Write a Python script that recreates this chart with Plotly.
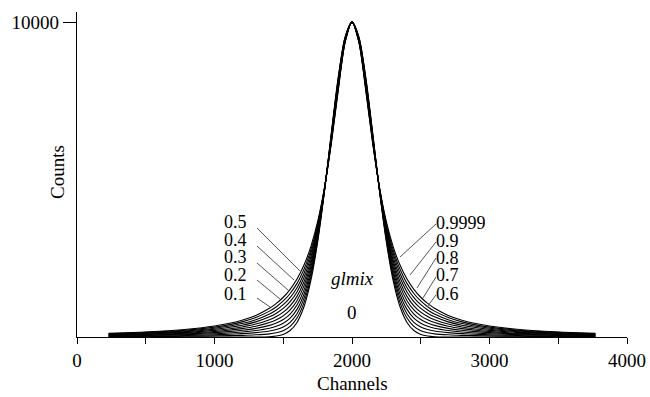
import plotly.graph_objects as go

# ---------------- data (read / estimated from the picture) ----------------
CENTER = 2000
# distance from the peak centre (channels); the profiles are symmetric
OFFSETS = [0, 50, 100, 150, 200, 250, 300, 350, 400, 450, 500, 550, 600,
           700, 800, 900, 1000, 1200, 1400, 1600, 1770]

GLMIX = ["0", "0.1", "0.2", "0.3", "0.4", "0.5", "0.6", "0.7", "0.8", "0.9", "0.9999"]

COUNTS_0 = [10000, 9531, 8253, 6492, 4639, 3012, 1776, 952, 463, 205, 82, 30, 10, 1, 0, 0, 0, 0, 0, 0, 0]
COUNTS_01 = [10000, 9513, 8211, 6459, 4650, 3077, 1885, 1084, 601, 336, 200, 134, 100, 70, 53, 43, 35, 25, 18, 14, 11]
COUNTS_02 = [10000, 9495, 8169, 6426, 4660, 3142, 1993, 1217, 739, 467, 318, 237, 190, 138, 107, 85, 70, 49, 36, 28, 23]
COUNTS_03 = [10000, 9477, 8126, 6392, 4671, 3207, 2102, 1349, 876, 597, 436, 341, 280, 207, 160, 128, 104, 74, 54, 42, 34]
COUNTS_04 = [10000, 9459, 8084, 6359, 4681, 3272, 2211, 1482, 1014, 728, 554, 444, 370, 275, 214, 171, 139, 98, 72, 56, 46]
COUNTS_05 = [10000, 9442, 8042, 6326, 4692, 3337, 2320, 1614, 1152, 859, 672, 548, 461, 344, 267, 214, 174, 123, 91, 70, 57]
COUNTS_06 = [10000, 9424, 8000, 6293, 4702, 3401, 2428, 1746, 1290, 990, 790, 652, 551, 412, 320, 256, 209, 147, 109, 83, 68]
COUNTS_07 = [10000, 9406, 7958, 6260, 4713, 3466, 2537, 1879, 1428, 1121, 908, 755, 641, 481, 374, 299, 244, 172, 127, 97, 80]
COUNTS_08 = [10000, 9388, 7915, 6226, 4723, 3531, 2646, 2011, 1565, 1251, 1026, 859, 731, 549, 427, 342, 278, 196, 145, 111, 91]
COUNTS_09 = [10000, 9370, 7873, 6193, 4734, 3596, 2754, 2144, 1703, 1382, 1144, 962, 821, 618, 481, 384, 313, 221, 163, 125, 103]
COUNTS_09999 = [10000, 9352, 7831, 6160, 4744, 3661, 2863, 2276, 1841, 1513, 1262, 1066, 911, 686, 534, 427, 348, 245, 181, 139, 114]

SERIES = [COUNTS_0, COUNTS_01, COUNTS_02, COUNTS_03, COUNTS_04, COUNTS_05,
          COUNTS_06, COUNTS_07, COUNTS_08, COUNTS_09, COUNTS_09999]

X_TICKS = [0, 500, 1000, 1500, 2000, 2500, 3000, 3500, 4000]
X_TICKTEXT = ["0", "", "1000", "", "2000", "", "3000", "", "4000"]
Y_TICKS = [10000]
Y_TICKTEXT = ["10000"]

LEFT_LABELS = ["0.5", "0.4", "0.3", "0.2", "0.1"]
RIGHT_LABELS = ["0.9999", "0.9", "0.8", "0.7", "0.6"]

# ---------------- layout geometry ----------------
W, H = 650, 397
ML, MR, MT, MB = 77, 23, 12, 60
PW, PH = W - ML - MR, H - MT - MB
XMAX, YMAX = 4000, 10320
FONT = "Liberation Serif, Times New Roman, serif"
LABEL_SIZE = 18


def dx(px):
    return (px - ML) * XMAX / PW


def dy(py):
    return (MT + PH - py) * YMAX / PH


fig = go.Figure()

for name, ys in zip(GLMIX, SERIES):
    xs = [CENTER - o for o in OFFSETS[::-1]] + [CENTER + o for o in OFFSETS[1:]]
    yv = ys[::-1] + ys[1:]
    fig.add_trace(go.Scatter(x=xs, y=yv, mode="lines", name=name,
                             line=dict(color="black", width=1.1, shape="spline", smoothing=0.8),
                             hoverinfo="skip", showlegend=False))

annotations = []
shapes = []

left_text_y = [222, 240, 257, 275, 294]
left_lines = [((257, 228), (300, 271)), ((257, 246), (294, 280)), ((257, 263), (288, 290)),
              ((257, 280), (280, 299)), ((257, 298), (270, 307))]
for lab, ty, ((x0, y0), (x1, y1)) in zip(LEFT_LABELS, left_text_y, left_lines):
    annotations.append(dict(x=dx(248), y=dy(ty), xref="x", yref="y", text=lab, showarrow=False,
                            xanchor="right", yanchor="middle", borderpad=0,
                            font=dict(size=LABEL_SIZE, color="black", family=FONT)))
    shapes.append(dict(type="line", xref="x", yref="y", x0=dx(x0), y0=dy(y0), x1=dx(x1), y1=dy(y1),
                       line=dict(color="#555555", width=1)))

right_text_y = [223, 241, 258, 275, 294]
right_lines = [((436, 224), (400, 257)), ((436, 242), (410, 275)), ((436, 258), (417, 288)),
               ((436, 277), (423, 298)), ((436, 295), (427, 307))]
for lab, ty, ((x0, y0), (x1, y1)) in zip(RIGHT_LABELS, right_text_y, right_lines):
    annotations.append(dict(x=dx(435), y=dy(ty), xref="x", yref="y", text=lab, showarrow=False,
                            xanchor="left", yanchor="middle", borderpad=0,
                            font=dict(size=LABEL_SIZE, color="black", family=FONT)))
    shapes.append(dict(type="line", xref="x", yref="y", x0=dx(x0), y0=dy(y0), x1=dx(x1), y1=dy(y1),
                       line=dict(color="#555555", width=1)))

annotations.append(dict(x=dx(352), y=dy(278), xref="x", yref="y", text="<i>glmix</i>", showarrow=False,
                        xanchor="center", yanchor="middle", font=dict(size=19, color="black", family=FONT)))
annotations.append(dict(x=dx(352), y=dy(312), xref="x", yref="y", text="0", showarrow=False,
                        xanchor="center", yanchor="middle", font=dict(size=19, color="black", family=FONT)))
# axis titles
annotations.append(dict(x=(352 - ML) / PW, y=(MT + PH - 383) / PH, xref="paper", yref="paper",
                        text="Channels", showarrow=False, xanchor="center", yanchor="middle",
                        font=dict(size=19, color="black", family=FONT)))
annotations.append(dict(x=(57 - ML) / PW, y=(MT + PH - 172) / PH, xref="paper", yref="paper",
                        text="Counts", showarrow=False, textangle=-90, xanchor="center", yanchor="middle",
                        font=dict(size=19, color="black", family=FONT)))

fig.update_layout(
    width=W, height=H,
    margin=dict(l=ML, r=MR, t=MT, b=MB, autoexpand=False),
    paper_bgcolor="white", plot_bgcolor="white",
    annotations=annotations, shapes=shapes,
    font=dict(family=FONT, size=19, color="black"),
)
fig.update_xaxes(range=[0, XMAX], tickmode="array", tickvals=X_TICKS, ticktext=X_TICKTEXT,
                 ticks="outside", ticklen=6, tickwidth=1, tickcolor="black", automargin=False,
                 showline=True, linecolor="black", linewidth=1.2, showgrid=False, zeroline=False,
                 tickfont=dict(size=19, family=FONT, color="black"))
fig.update_yaxes(range=[0, YMAX], tickmode="array", tickvals=Y_TICKS, ticktext=Y_TICKTEXT,
                 ticks="outside", ticklen=13, tickwidth=1, tickcolor="black", automargin=False,
                 showline=True, linecolor="black", linewidth=1.2, showgrid=False, zeroline=False,
                 tickfont=dict(size=19, family=FONT, color="black"))

fig.write_html("out.html")
